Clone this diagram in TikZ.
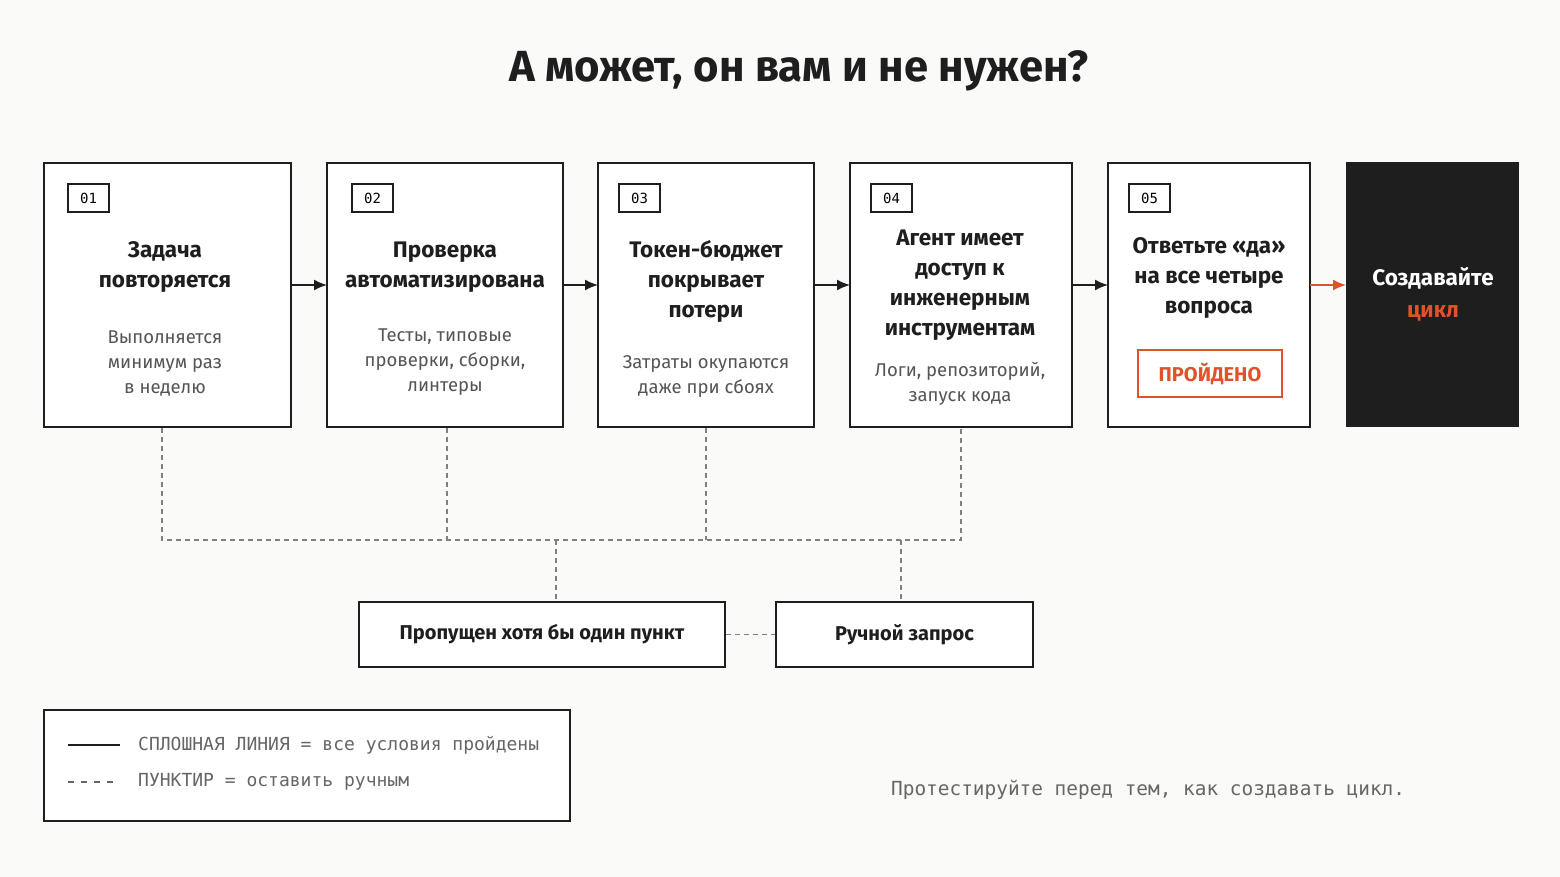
\documentclass[tikz,border=0pt]{standalone}
\usepackage{fontspec}
\setmainfont{Fira Sans}
\newfontfamily\monof{DejaVu Sans Mono}
\usetikzlibrary{arrows.meta}
\definecolor{ink}{HTML}{1E1E1E}
\definecolor{accent}{HTML}{E0522A}
\definecolor{sub}{HTML}{555555}
\definecolor{bg}{HTML}{FAFAF9}
\tikzset{
 card/.style={draw=ink, line width=1.3pt, fill=white},
 tag/.style={draw=ink, line width=1.2pt, minimum width=41pt, minimum height=28pt, inner sep=0pt, font=\monof\fontsize{14}{14}\selectfont},
 ttl/.style={align=center, font=\bfseries\fontsize{22.5}{30}\selectfont, text=ink},
 subt/.style={align=center, font=\fontsize{18.5}{25}\selectfont, text=sub},
 flow/.style={-{Latex[length=13pt,width=11pt]}, line width=1.6pt, draw=ink},
 dashln/.style={dashed, dash pattern=on 5pt off 4pt, line width=1.1pt, draw=black!50},
 qbox/.style={draw=ink, line width=1.3pt, fill=white, font=\bfseries\fontsize{20}{20}\selectfont, text=ink}
}
\begin{document}
\begin{tikzpicture}[x=1pt,y=-1pt]
\fill[bg] (0,0) rectangle (1560,877);
\useasboundingbox (0,0) rectangle (1560,877);
\node[font=\bfseries\fontsize{43.6}{44}\selectfont, text=ink] (title) at (799,71) {А может, он вам и не нужен?};
% cards
\draw[card] (44,163) rectangle (291,427);
\draw[card] (327,163) rectangle (563,427);
\draw[card] (598,163) rectangle (814,427);
\draw[card] (850,163) rectangle (1072,427);
\draw[card] (1108,163) rectangle (1310,427);
\fill[ink] (1346,162) rectangle (1519,427);
\node[tag] (t1) at (88.5,198) {01};
\node[tag] (t2) at (372.5,198) {02};
\node[tag] (t3) at (639.5,198) {03};
\node[tag] (t4) at (891.5,198) {04};
\node[tag] (t5) at (1149.5,198) {05};
\node[ttl] (h1) at (165,267) {Задача\\повторяется};
\node[subt] (s1) at (165,364) {Выполняется\\минимум раз\\в неделю};
\node[ttl] (h2) at (445,267) {Проверка\\автоматизирована};
\node[subt] (s2) at (445,362) {Тесты, типовые\\проверки, сборки,\\линтеры};
\node[ttl] (h3) at (706,281) {Токен-бюджет\\покрывает\\потери};
\node[subt] (s3) at (706,376) {Затраты окупаются\\даже при сбоях};
\node[ttl] (h4) at (960,285) {Агент имеет\\доступ к\\инженерным\\инструментам};
\node[subt] (s4) at (960,384) {Логи, репозиторий,\\запуск кода};
\node[ttl] (h5) at (1209,278) {Ответьте «да»\\на все четыре\\вопроса};
\node[draw=accent, line width=1.5pt, minimum width=144pt, minimum height=47pt, text=accent, font=\bfseries\fontsize{20}{20}\selectfont] (ok) at (1210,373.5) {ПРОЙДЕНО};
\node[ttl, text=white, font=\bfseries\fontsize{22.5}{32}\selectfont] (go) at (1433,294) {Создавайте\\\textcolor{accent}{цикл}};
% flow arrows
\coordinate (a1) at (291,285); \coordinate (a2) at (327,285);
\coordinate (a3) at (563,285); \coordinate (a4) at (598,285);
\coordinate (a5) at (814,285); \coordinate (a6) at (850,285);
\coordinate (a7) at (1072,285); \coordinate (a8) at (1108,285);
\coordinate (a9) at (1310,285); \coordinate (a10) at (1346,285);
\draw[flow] (a1) -- (a2);
\draw[flow] (a3) -- (a4);
\draw[flow] (a5) -- (a6);
\draw[flow] (a7) -- (a8);
\draw[flow, draw=accent, -{Latex[length=13pt,width=11pt,color=accent]}] (a9) -- (a10);
% dashed
\node[qbox, minimum width=366pt, minimum height=65pt] (miss) at (542,634.5) {Пропущен хотя бы один пункт};
\node[qbox, minimum width=257pt, minimum height=65pt] (man) at (904.5,634.5) {Ручной запрос};
\coordinate (d1) at (162,428); \coordinate (d2) at (447,428);
\coordinate (d3) at (706,428); \coordinate (d4) at (961,428);
\draw[dashln] (d1) |- (961,540) -- (d4);
\draw[dashln] (d2) -- (447,540);
\draw[dashln] (d3) -- (706,540);
\draw[dashln] (556,540) -- (556,602);
\draw[dashln] (901,540) -- (901,602);
\draw[dashln] (miss.east) -- (man.west);
% legend
\draw[card] (44,710) rectangle (570,821);
\coordinate (l1) at (68,745); \coordinate (l2) at (120,745);
\coordinate (l3) at (68,782); \coordinate (l4) at (120,782);
\draw[line width=1.6pt, ink] (l1) -- (l2);
\draw[dashln, draw=black!60, dash pattern=on 6pt off 7pt] (l3) -- (l4);
\node[anchor=west, text=black!60, font=\monof\fontsize{18}{18}\selectfont, inner sep=0pt] (lg1) at (138,745) {СПЛОШНАЯ ЛИНИЯ = все условия пройдены};
\node[anchor=west, text=black!60, font=\monof\fontsize{18}{18}\selectfont, inner sep=0pt] (lg2) at (138,782) {ПУНКТИР = оставить ручным};
\node[anchor=west, text=black!60, font=\monof\fontsize{19.4}{19}\selectfont, inner sep=0pt] (foot) at (891,790) {Протестируйте перед тем, как создавать цикл.};
\end{tikzpicture}
\end{document}
